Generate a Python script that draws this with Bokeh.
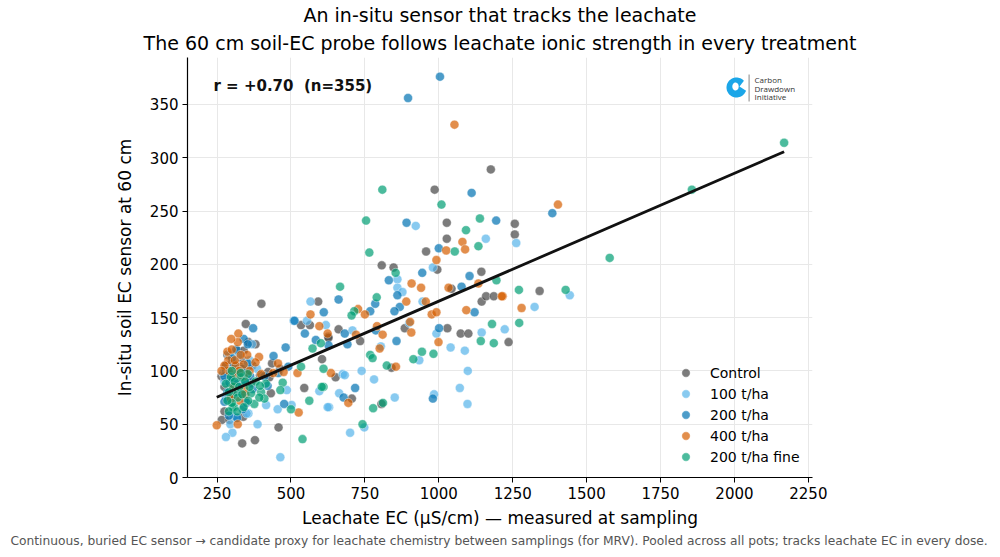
import numpy as np
from bokeh.plotting import figure
from bokeh.models import (Range1d, Title, Label, FixedTicker, PolyAnnotation,
                          BoxAnnotation)
from bokeh.embed import file_html
from bokeh.resources import INLINE

# ---------------- data (leachate EC µS/cm, sensor EC) ----------------
groups = ["Control", "100 t/ha", "200 t/ha", "400 t/ha", "200 t/ha fine"]
colors = ["#444444", "#56B4E9", "#0072B2", "#D55E00", "#009E73"]

control_pts = [
    (1257, 238), (1257, 228), (1341, 175), (1236, 127), (1176, 289), (986, 270), (1027, 239),
    (1027, 224), (957, 212), (995, 195), (807, 199), (847, 197), (1144, 193), (1043, 177),
    (400, 163), (592, 165), (347, 144), (534, 143), (564, 143),
    (1145, 165), (1160, 170), (1186, 170), (661, 139), (734, 128), (626, 132), (885, 140),
    (1029, 140), (1074, 135), (1100, 135), (840, 103), (651, 94), (706, 74), (806, 69),
    (320, 119), (340, 119), (356, 127), (333, 112), (436, 107), (463, 102), (423, 99), (427, 94),
    (545, 84), (432, 79), (458, 47), (378, 35), (335, 32), (266, 54), (292, 54), (339, 57),
    (605, 111), (627, 131), (275, 85), (365, 89), (288, 94),
    (280, 105), (300, 107), (318, 95), (328, 104), (290, 75), (305, 78), (350, 100), (370, 105),
    (285, 115), (380, 125), (275, 62), (265, 95), (395, 96),
]
dose100_pts = [
    (1262, 220), (1443, 171), (1324, 160), (1223, 139), (922, 236), (1159, 224), (980, 197),
    (860, 186), (860, 178), (877, 174), (945, 165), (708, 138), (618, 143), (1145, 136),
    (992, 135), (900, 145), (804, 123), (934, 110), (1040, 122), (1088, 119), (739, 100),
    (675, 97), (682, 96), (781, 92), (1098, 100), (1071, 84), (1097, 69), (663, 79), (629, 66),
    (851, 75), (984, 78), (748, 47), (700, 42), (566, 165), (554, 147), (509, 147), (368, 125),
    (308, 113), (300, 103), (486, 82), (416, 68), (502, 68), (455, 64), (596, 81), (624, 66),
    (387, 50), (356, 60), (464, 19), (302, 42), (280, 38), (305, 56), (315, 56),
    (275, 90), (290, 115), (310, 100), (330, 88), (345, 72), (300, 60), (280, 75), (325, 115),
    (360, 110), (385, 102), (350, 60), (295, 50), (270, 98),
]
dose200_pts = [
    (1384, 248), (1004, 376), (896, 356), (1111, 267), (891, 239), (1194, 241), (1000, 215),
    (944, 192), (1104, 189), (831, 185), (1077, 179), (661, 167), (611, 155), (512, 147),
    (785, 163), (860, 171), (868, 160), (850, 156), (768, 156), (1121, 155), (682, 135),
    (691, 125), (787, 138), (857, 128), (1001, 140), (717, 84), (678, 75), (980, 74), (584, 129),
    (547, 135), (627, 124), (372, 140), (340, 130), (354, 125), (306, 107), (354, 107),
    (441, 114), (457, 98), (482, 122), (491, 104), (421, 86), (477, 69), (318, 56), (292, 89),
    (322, 99), (275, 71), (337, 64), (371, 83),
    (280, 100), (295, 97), (300, 92), (320, 88), (335, 102), (345, 90), (330, 78), (285, 80),
    (300, 112), (315, 120), (362, 95), (275, 95), (350, 70), (290, 58), (410, 95),
]
dose400_pts = [
    (1403, 256), (1053, 331), (1080, 221), (1089, 214), (1025, 213), (992, 204), (1134, 182),
    (908, 182), (940, 178), (1033, 178), (1216, 170), (1280, 159), (890, 165), (956, 165),
    (1213, 170), (727, 158), (750, 153), (976, 153), (992, 155), (1093, 157), (720, 134),
    (624, 135), (791, 142), (810, 134), (903, 146), (907, 136), (999, 127), (800, 121),
    (855, 104), (635, 98), (694, 70), (566, 153), (596, 142), (322, 135), (320, 127), (352, 115),
    (392, 113), (288, 110), (313, 105), (340, 106), (456, 107), (399, 97), (440, 98), (522, 98),
    (475, 99), (526, 61), (249, 49), (320, 50), (312, 97), (297, 74), (327, 72), (342, 83),
    (285, 118), (300, 120), (310, 110), (325, 100), (340, 95), (290, 100), (275, 105),
    (330, 115), (360, 100), (305, 85), (345, 78), (380, 108), (265, 100), (298, 130),
]
fine200_pts = [
    (2168, 314), (1856, 270), (1578, 206), (809, 270), (1009, 256), (754, 241), (1139, 243),
    (1092, 232), (1134, 217), (1054, 212), (765, 211), (854, 192), (1195, 185), (666, 179),
    (1271, 176), (1429, 176), (1272, 145), (790, 169), (714, 156), (705, 152), (601, 126),
    (1180, 144), (1142, 128), (1186, 126), (768, 115), (776, 112), (943, 118), (982, 116),
    (914, 111), (824, 105), (610, 85), (778, 65), (811, 70), (742, 50), (573, 121), (610, 102),
    (534, 104), (472, 89), (399, 80), (410, 74), (464, 82), (500, 64), (562, 72), (604, 85),
    (539, 36), (297, 94), (303, 85), (331, 94), (354, 97), (308, 66), (376, 69), (365, 79),
    (393, 75), (314, 80), (320, 75), (303, 66),
    (280, 88), (290, 80), (300, 70), (310, 90), (325, 85), (335, 78), (345, 90), (355, 72),
    (290, 62), (318, 62), (330, 98), (340, 66), (300, 100), (285, 72), (360, 85), (380, 90),
    (415, 88), (395, 86),
]
series = [control_pts, dose100_pts, dose200_pts, dose400_pts, fine200_pts]

# pooled least-squares fit as shown in the chart (slope, intercept)
fit_slope = 0.1200
fit_intercept = 45.4

x_ticks = [250, 500, 750, 1000, 1250, 1500, 1750, 2000, 2250]
y_ticks = [0, 50, 100, 150, 200, 250, 300, 350]

title_1 = "An in-situ sensor that tracks the leachate"
title_2 = "The 60 cm soil-EC probe follows leachate ionic strength in every treatment"
x_label = "Leachate EC (µS/cm) — measured at sampling"
y_label = "In-situ soil EC sensor at 60 cm"
stat_text = "r = +0.70 \u00a0(n=355)"
footer = ("Continuous, buried EC sensor → candidate proxy for leachate chemistry between "
          "samplings (for MRV). Pooled across all pots; tracks leachate EC in every dose.")
logo_lines = ["Carbon", "Drawdown", "Initiative"]

FONT = "DejaVu Sans"

# ---------------- figure ----------------
p = figure(width=1000, height=557, output_backend="svg", toolbar_location=None,
           x_range=Range1d(150, 2264), y_range=Range1d(0, 394),
           min_border_left=187, min_border_right=188, min_border_top=57,
           min_border_bottom=80, background_fill_color="white",
           border_fill_color="white")
p.outline_line_color = None

# titles (first in 'above' is farthest from the frame)
p.title.text = title_1
p.title.align = "center"
p.title.text_font = FONT
p.title.text_font_size = "19px"
p.title.text_font_style = "normal"
p.title.text_color = "black"
p.title.standoff = 1
t2 = Title(text=title_2, align="center", text_font=FONT, text_font_size="19px",
           text_font_style="normal", text_color="black", standoff=7)
p.add_layout(t2, "above")

# axes
p.xaxis.ticker = FixedTicker(ticks=x_ticks)
p.yaxis.ticker = FixedTicker(ticks=y_ticks)
p.xaxis.axis_label = x_label
p.yaxis.axis_label = y_label
for ax in (p.xaxis, p.yaxis):
    ax.axis_label_text_font = FONT
    ax.axis_label_text_font_size = "17px"
    ax.axis_label_text_font_style = "normal"
    ax.axis_label_text_color = "black"
    ax.major_label_text_font = FONT
    ax.major_label_text_font_size = "15px"
    ax.major_label_text_color = "black"
    ax.minor_tick_line_color = None
    ax.major_tick_out = 5
    ax.major_tick_in = 0
    ax.major_tick_line_color = "black"
    ax.axis_line_color = "black"
    ax.axis_line_width = 1.2
p.xaxis.major_label_standoff = 4
p.xaxis.axis_label_standoff = 6
p.yaxis.major_label_standoff = 4
p.yaxis.axis_label_standoff = 12

p.xgrid.grid_line_color = "#e8e8e8"
p.ygrid.grid_line_color = "#e8e8e8"
p.xgrid.grid_line_width = 1
p.ygrid.grid_line_width = 1

# footer
ft = Title(text=footer, align="left", offset=-177, text_font=FONT, text_font_size="12.25px",
           text_font_style="normal", text_color="#555555", standoff=2)
p.add_layout(ft, "below")

# scatter
for name, col, pts in zip(groups, colors, series):
    xs = [a for a, b in pts]
    ys = [b for a, b in pts]
    p.scatter(xs, ys, size=9, fill_color=col, fill_alpha=0.7, line_color="white",
              line_width=0.5, line_alpha=0.8, legend_label=name)

# fitted line over the observed x-range
all_x = np.array([a for s in series for a, b in s], dtype=float)
lx = np.array([all_x.min(), all_x.max()])
p.line(lx, fit_slope * lx + fit_intercept, line_color="#111111", line_width=2.8)

# legend
lg = p.legend[0]
lg.location = (488, 10)
lg.background_fill_alpha = 0
lg.border_line_alpha = 0
lg.padding = 0
lg.margin = 0
lg.spacing = 0
lg.glyph_width = 21
lg.glyph_height = 21
lg.label_height = 21
lg.label_standoff = 14
lg.label_text_font = FONT
lg.label_text_font_size = "14px"
lg.label_text_color = "black"

# stats annotation
p.add_layout(Label(x=26, y=392, x_units="screen", y_units="screen", text=stat_text,
                   text_font=FONT, text_font_size="15px", text_font_style="bold",
                   text_color="#111111", text_baseline="middle"))

# logo (decoration)
cx, cy, r = 549, 390, 10
th = np.linspace(0, 2 * np.pi, 60)
p.add_layout(PolyAnnotation(xs=list(cx + r * np.cos(th)), ys=list(cy + r * np.sin(th)),
                            xs_units="screen", ys_units="screen", fill_color="#1BA6E8",
                            fill_alpha=1, line_color=None))
wd = np.linspace(-0.35, 0.75, 20)
p.add_layout(PolyAnnotation(xs=[cx + 3] + list(cx + (r + 1) * np.cos(wd)),
                            ys=[cy + 1] + list(cy + (r + 1) * np.sin(wd)),
                            xs_units="screen", ys_units="screen", fill_color="white",
                            fill_alpha=1, line_color=None))
bl = np.linspace(0, 2 * np.pi, 30)
p.add_layout(PolyAnnotation(xs=list(cx - 1 + 3.2 * np.cos(bl)), ys=list(cy + 1 + 4 * np.sin(bl)),
                            xs_units="screen", ys_units="screen", fill_color="white",
                            fill_alpha=1, line_color=None))
p.add_layout(BoxAnnotation(left=561, right=562.2, bottom=376, top=403, left_units="screen",
                           right_units="screen", bottom_units="screen", top_units="screen",
                           fill_color="#9a9a9a", fill_alpha=1, line_color=None))
for i, txt in enumerate(logo_lines):
    p.add_layout(Label(x=567, y=398 - 8.5 * i, x_units="screen", y_units="screen", text=txt,
                       text_font="Open Sans", text_font_size="8px", text_color="#333333",
                       text_baseline="middle"))

open("out.html", "w").write(file_html(p, INLINE))
